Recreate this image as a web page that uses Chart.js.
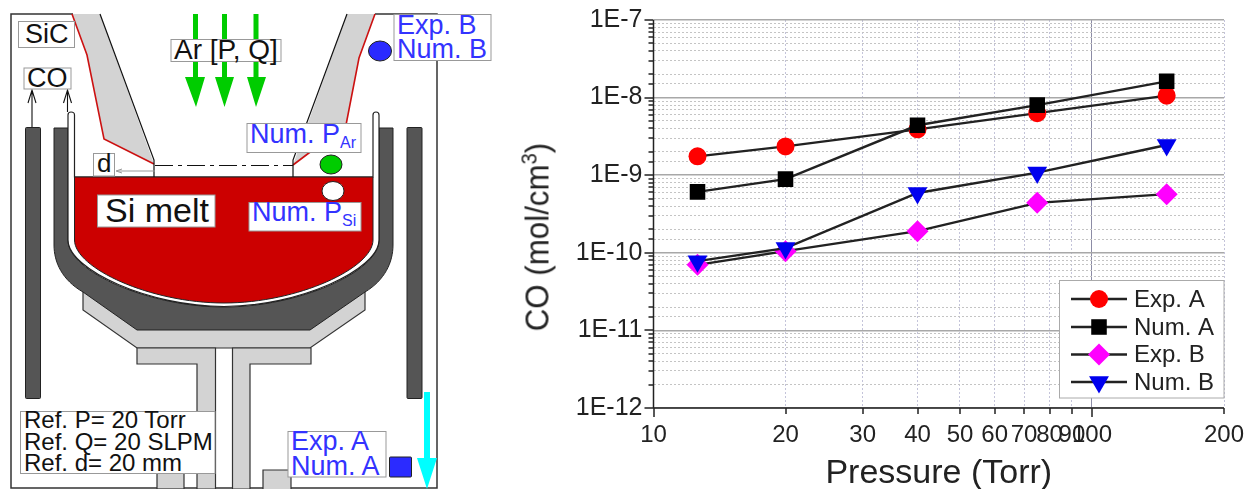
<!DOCTYPE html>
<html lang="en">
<head>
    <meta charset="UTF-8">
    <title>CO concentration vs pressure</title>
    <script src="https://cdn.jsdelivr.net/npm/chart.js"></script>
    <style>
        html, body { margin: 0; padding: 0; background: #fff; }
        body { width: 1255px; height: 489px; position: relative; overflow: hidden; font-family: "Liberation Sans", Arial, sans-serif; }
        #furnace { position: absolute; left: 0; top: 0; }
        #wrap { position: absolute; left: 500px; top: 0; width: 755px; height: 489px; }
        #ytitle {
            position: absolute; left: 537px; top: 237px; white-space: nowrap;
            font-size: 34px; color: #222; transform: translate(-50%, -50%) rotate(-90deg) scaleX(0.92);
        }
        #ytitle sup { font-size: 22px; line-height: 0; }
        .blue { fill: #3333ff; font-size: 27px; }
        .sub { fill: #3333ff; font-size: 16px; }
        .blk { fill: #111; }
    </style>
</head>
<body>
<svg id="furnace" width="500" height="489" font-family="Liberation Sans, Arial, sans-serif">
    <!-- outer chamber -->
    <path d="M73 14H11V488H437V14H375" fill="none" stroke="#333" stroke-width="1.5"/>
    <!-- lower supports -->
    <g fill="#d3d3d3" stroke="#333" stroke-width="1.2">
        <rect x="157" y="440" width="27" height="49"/>
        <path d="M263 489V470H291V489"/>
        <path d="M83 290V310L137 348H310L365 310V290Z"/>
        <path d="M137 348V364H197V489H215.5V348Z"/>
        <path d="M311 348V364H250V489H232.5V348Z"/>
    </g>
    <!-- heaters -->
    <g fill="#555" stroke="#222" stroke-width="1">
        <rect x="25.5" y="127.5" width="15" height="271" rx="1"/>
        <rect x="407" y="127.5" width="15" height="271" rx="1"/>
        <path d="M54 128H68V240C68 272 150 307 224 307C298 307 379 272 379 240V128H393V245C393 262 385 280 365 292L310 330H137L83 292C62 280 54 262 54 245Z"/>
    </g>
    <!-- crucible and melt -->
    <path d="M68 115Q68 112 71 112Q74.500 112 74.500 115V177H373V115Q373 112 376 112Q379 112 379 115V240C379 270 298 306.500 224 306.500C150 306.500 68 270 68 240Z" fill="#fff" stroke="#222" stroke-width="1.2"/>
    <path d="M74.500 177H373V240C373 268 298 303 224 303C150 303 74.500 268 74.500 240Z" fill="#cc0000" stroke="#222" stroke-width="1"/>
    <!-- hood -->
    <path d="M72 14L87 55L104 139L154 164L100 14Z" fill="#d3d3d3"/>
    <path d="M375 14L359 58L346 125L293 165L347 14Z" fill="#d3d3d3"/>
    <path d="M72 14L87 55L104 139L154 164M375 14L359 58L346 125L293 165" fill="none" stroke="#cc1111" stroke-width="1.6"/>
    <path d="M100 14L154 160V177M347 14L293 160V177" fill="none" stroke="#111" stroke-width="1.2"/>
    <path d="M155 165.500H293" stroke="#111" stroke-width="1.2" stroke-dasharray="18 5 4 5"/>
    <path d="M155 171H117M122 169L116 171L122 173" fill="none" stroke="#999" stroke-width="1"/>
    <!-- CO arrows -->
    <path d="M32 127V91M28 103L32 90L36 103M67.500 112V91M63.500 103L67.500 90L71.500 103" fill="none" stroke="#111" stroke-width="1.1"/>
    <!-- argon inlet -->
    <g fill="#00cc00">
        <path d="M193 14H198V77H205L196 107L185 77H193Z"/>
        <path d="M222 14H227V77H234L224.500 107L215 77H222Z"/>
        <path d="M253.500 14H258.500V77H266L256 107L247 77H253.500Z"/>
    </g>
    <!-- outlet -->
    <path d="M424 392H430V458H437L427 489L417 458H424Z" fill="#00ffff"/>
    <!-- probes -->
    <ellipse cx="380" cy="51" rx="11.500" ry="10" fill="#2b2bff" stroke="#222"/>
    <ellipse cx="331" cy="164.500" rx="11" ry="9.500" fill="#00cc00" stroke="#222"/>
    <ellipse cx="333" cy="191" rx="11" ry="9.500" fill="#fff" stroke="#222"/>
    <rect x="389.500" y="457" width="22" height="20" rx="1" fill="#2b2bff" stroke="#222"/>
    <!-- labels -->
    <g fill="#fff" stroke="#999" stroke-width="1">
        <rect x="18.500" y="21.500" width="56" height="26"/>
        <rect x="24" y="68" width="47" height="21"/>
        <rect x="171" y="39.500" width="110" height="22"/>
        <rect x="93.500" y="153.500" width="21" height="22.500"/>
        <rect x="97.500" y="195" width="117.500" height="32"/>
        <rect x="394" y="14.500" width="97" height="46"/>
        <rect x="247" y="123.500" width="114" height="29"/>
        <rect x="249" y="202.500" width="112" height="28.500"/>
        <rect x="20.500" y="411.500" width="194.500" height="62"/>
        <rect x="288" y="431.500" width="98" height="45.500"/>
    </g>
    <text class="blk" x="25" y="43" font-size="27">SiC</text>
    <text class="blk" x="27" y="87" font-size="27">CO</text>
    <text class="blk" x="174" y="58.500" font-size="28">Ar [P, Q]</text>
    <text class="blk" x="97" y="172" font-size="26">d</text>
    <text class="blk" x="105" y="222" font-size="34">Si melt</text>
    <text class="blue" x="397" y="34">Exp. B</text>
    <text class="blue" x="397" y="58">Num. B</text>
    <text class="blue" x="250" y="143">Num. P<tspan class="sub" dy="5">Ar</tspan></text>
    <text class="blue" x="252" y="221">Num. P<tspan class="sub" dy="5">Si</tspan></text>
    <text class="blue" x="291" y="450">Exp. A</text>
    <text class="blue" x="291" y="475">Num. A</text>
    <g class="blk" font-size="24">
        <text x="24" y="428">Ref. P= 20 Torr</text>
        <text x="24" y="449.500">Ref. Q= 20 SLPM</text>
        <text x="24" y="471">Ref. d= 20 mm</text>
    </g>
</svg>

<div id="wrap"><canvas id="co-chart"></canvas></div>
<div id="ytitle">CO (mol/cm<sup>3</sup>)</div>

<script>
    const pressure = [12.6, 20, 40, 75, 148];
    const expA = [1.75e-9, 2.35e-9, 3.9e-9, 6.3e-9, 1.06e-8];
    const numA = [6.1e-10, 8.9e-10, 4.4e-9, 8e-9, 1.62e-8];
    const expB = [7e-11, 1.05e-10, 1.9e-10, 4.4e-10, 5.7e-10];
    const numB = [7.8e-11, 1.15e-10, 5.9e-10, 1.08e-9, 2.45e-9];
    const pressureTicks = [10, 20, 30, 40, 50, 60, 70, 80, 90, 100, 200];

    const font = '"Liberation Sans", Arial, sans-serif';

    function series(label, values, color, style, radius, order, rotation) {
        return {
            label: label,
            data: pressure.map((p, i) => ({x: p, y: values[i]})),
            borderColor: '#222',
            borderWidth: 2.4,
            backgroundColor: color,
            pointBackgroundColor: color,
            pointBorderWidth: 0,
            pointStyle: style,
            pointRadius: radius,
            pointRotation: rotation || 0,
            order: order,
            tension: 0
        };
    }

    function isDecade(v) {
        const e = Math.log10(v);
        return Math.abs(e - Math.round(e)) < 1e-6;
    }

    // axis lines and the long/short tick marks, Origin style
    const axisTicks = {
        id: 'axisTicks',
        afterDraw(chart) {
            const c = chart.ctx, a = chart.chartArea;
            c.save();
            c.strokeStyle = '#222';
            c.lineWidth = 1.5;
            c.beginPath();
            c.moveTo(a.left, a.top);
            c.lineTo(a.left, a.bottom);
            c.lineTo(a.right, a.bottom);
            chart.scales.y.ticks.forEach(t => {
                const y = Math.round(chart.scales.y.getPixelForValue(t.value));
                c.moveTo(a.left, y);
                c.lineTo(a.left - (isDecade(t.value) ? 9 : 5), y);
            });
            chart.scales.x.ticks.forEach(t => {
                const x = Math.round(chart.scales.x.getPixelForValue(t.value));
                c.moveTo(x, a.bottom);
                c.lineTo(x, a.bottom + (isDecade(t.value) ? 9 : 6));
            });
            c.stroke();
            c.restore();
        }
    };

    // legend box sits inside the plot and has the line through the marker
    const insetLegend = {
        id: 'insetLegend',
        afterDraw(chart) {
            const c = chart.ctx;
            const rows = [299, 327, 354.5, 382];
            c.save();
            c.fillStyle = '#fff';
            c.strokeStyle = '#aaa';
            c.lineWidth = 1;
            c.fillRect(559.5, 280.5, 164.5, 117.5);
            c.strokeRect(559.5, 280.5, 164.5, 117.5);
            chart.data.datasets.forEach((d, i) => {
                c.strokeStyle = '#222';
                c.lineWidth = 2.4;
                c.beginPath();
                c.moveTo(571, rows[i]);
                c.lineTo(627, rows[i]);
                c.stroke();
                c.fillStyle = d.backgroundColor;
                Chart.helpers.drawPoint(c, {
                    pointStyle: d.pointStyle,
                    rotation: d.pointRotation,
                    radius: d.pointRadius,
                    borderWidth: 0
                }, 599, rows[i]);
                c.fillStyle = '#222';
                c.font = '24px ' + font;
                c.textBaseline = 'middle';
                c.fillText(d.label, 634, rows[i] + 1);
            });
            c.restore();
        }
    };

    new Chart(document.getElementById('co-chart'), {
        type: 'line',
        data: {
            datasets: [
                series('Exp. A', expA, '#ff0000', 'circle', 9, 4),
                series('Num. A', numA, '#000000', 'rect', 11, 3),
                series('Exp. B', expB, '#ff00ff', 'rectRot', 11, 2),
                series('Num. B', numB, '#0000ee', 'triangle', 11.5, 1, 180)
            ]
        },
        options: {
            responsive: true,
            maintainAspectRatio: false,
            animation: false,
            layout: {padding: {top: 20, right: 31, bottom: 0, left: 0}},
            plugins: {legend: {display: false}, title: {display: false}, tooltip: {enabled: false}},
            scales: {
                x: {
                    type: 'logarithmic',
                    min: 10,
                    max: 200,
                    afterBuildTicks: s => { s.ticks = pressureTicks.map(v => ({value: v})); },
                    // label overhang must not move the plot area
                    afterFit: s => { s.height = 81; s.paddingLeft = 0; s.paddingRight = 0; },
                    border: {display: false, dash: c => c.tick.value === 100 ? [] : [2, 2]},
                    grid: {
                        drawTicks: false,
                        lineWidth: 1,
                        color: c => c.tick.value === 100 ? '#8c8ca6' : '#c4c4da'
                    },
                    ticks: {
                        autoSkip: false,
                        maxRotation: 0,
                        padding: 13,
                        color: '#222',
                        font: {family: font, size: 24},
                        callback: v => String(v)
                    },
                    title: {
                        display: true,
                        text: 'Pressure (Torr)',
                        color: '#222',
                        font: {family: font, size: 34, lineHeight: 0.9},
                        padding: {top: 0, bottom: 0}
                    }
                },
                y: {
                    type: 'logarithmic',
                    min: 1e-12,
                    max: 1e-7,
                    afterFit: s => { s.width = 153.5; s.paddingTop = 0; s.paddingBottom = 0; },
                    border: {display: false, dash: c => isDecade(c.tick.value) ? [] : [2, 2]},
                    grid: {
                        drawTicks: false,
                        lineWidth: c => isDecade(c.tick.value) ? 1.5 : 1,
                        color: c => isDecade(c.tick.value) ? '#a8a8a8' : '#c4c4c4'
                    },
                    ticks: {
                        autoSkip: false,
                        padding: 11,
                        color: '#222',
                        font: {family: font, size: 25},
                        callback: v => isDecade(v) ? '1E' + Math.round(Math.log10(v)) : ''
                    }
                }
            }
        },
        plugins: [axisTicks, insetLegend]
    });
</script>
</body>
</html>
